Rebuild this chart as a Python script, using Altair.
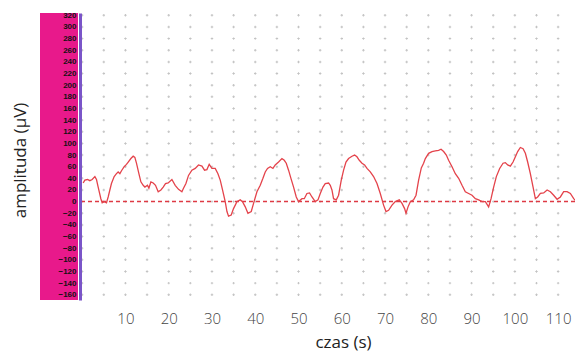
import altair as alt
import pandas as pd

# Signal: time (s) and amplitude (µV)
time_s = [0.23, 0.62, 1.23, 1.78, 2.31, 2.94, 3.31, 3.70, 4.32, 4.62, 5.09, 5.62, 6.01, 6.40, 6.77,
          7.40, 7.93, 8.32, 8.72, 9.09, 9.71, 10.24, 10.64, 11.26, 11.79, 12.18, 12.55, 13.11, 13.57,
          14.10, 14.50, 15.10, 15.42, 15.88, 16.42, 16.95, 17.57, 18.20, 18.73, 19.26, 19.88, 20.74,
          21.50, 22.27, 23.05, 23.42, 23.98, 24.58, 25.36, 26.13, 26.89, 27.68, 28.28, 28.83, 29.36,
          29.99, 30.75, 31.38, 31.91, 32.44, 33.06, 33.46, 33.83, 34.45, 34.98, 35.77, 36.53, 37.06,
          37.69, 38.31, 39.08, 39.61, 40.39, 41.16, 41.78, 42.31, 42.84, 43.47, 44.09, 44.62, 45.39,
          46.17, 46.71, 47.17, 47.70, 48.25, 48.86, 49.48, 50.01, 50.80, 51.33, 51.95, 52.55, 53.11,
          53.87, 54.50, 55.03, 55.65, 56.18, 56.95, 57.34, 57.73, 58.10, 58.73, 59.26, 59.88, 60.42,
          60.97, 61.57, 62.36, 62.96, 63.51, 64.05, 64.67, 65.27, 65.83, 66.59, 67.35, 68.14, 68.90,
          69.66, 70.22, 70.82, 71.61, 72.37, 73.29, 73.92, 74.52, 74.84, 75.31, 75.84, 76.60, 77.16,
          77.76, 78.38, 78.91, 79.31, 80.07, 80.85, 81.62, 82.38, 82.94, 83.54, 84.16, 84.69, 85.48,
          86.24, 87.01, 87.79, 88.55, 89.32, 90.10, 90.87, 91.63, 92.42, 93.18, 93.94, 94.50, 95.10,
          95.72, 96.49, 97.27, 97.80, 98.34, 98.96, 99.58, 100.12, 100.65, 101.27, 101.90, 102.43,
          102.96, 103.58, 104.21, 104.74, 105.27, 105.90, 106.66, 107.45, 108.21, 108.97, 109.76,
          110.52, 111.28, 112.07, 112.83, 113.60, 114.22, 114.75, 115.30, 115.77]
amplitude_uv = [32, 37, 38, 36, 38, 43, 38, 25, 5, -2, 0, -2, 8, 20, 31,
                43, 48, 51, 48, 53, 60, 64, 68, 74, 78, 76, 66, 48, 34,
                28, 25, 28, 23, 34, 32, 28, 17, 20, 25, 31, 32, 38,
                28, 21, 17, 23, 31, 45, 54, 57, 63, 61, 54, 55, 64,
                57, 57, 48, 37, 20, 0, -17, -25, -23, -12, 0, 3, 0,
                -9, -20, -17, -3, 17, 28, 40, 51, 57, 60, 57, 63, 68,
                74, 71, 66, 54, 40, 25, 8, 0, 5, 5, 14, 15, 8,
                0, 3, 14, 25, 31, 32, 28, 20, 5, 3, 11, 37, 54,
                68, 74, 78, 80, 77, 71, 66, 63, 57, 51, 43, 31, 14,
                -6, -17, -15, -6, 0, 3, -3, -12, -20, -9, 0, 3, 11,
                37, 58, 66, 74, 83, 86, 87, 88, 90, 86, 80, 71, 60,
                48, 40, 28, 17, 14, 11, 5, 3, 0, 0, -9, 5, 25,
                43, 57, 66, 67, 63, 61, 68, 77, 86, 93, 91, 83,
                68, 48, 25, 5, 8, 14, 15, 20, 17, 11, 4,
                8, 17, 17, 14, 5, 0, 14, 37, 54]

x_label_values = [10, 20, 30, 40, 50, 60, 70, 80, 90, 100, 110]
x_grid_values = [0, 5, 10, 15, 20, 25, 30, 35, 40, 45, 50, 55, 60, 65, 70, 75, 80, 85, 90, 95,
                 100, 105, 110]
y_tick_values = [-160, -140, -120, -100, -80, -60, -40, -20, 0, 20, 40, 60, 80, 100, 120, 140,
                 160, 180, 200, 220, 240, 260, 280, 300, 320]
baseline_value = [0]

X_DOMAIN = [-0.5, 113.9]
Y_DOMAIN = [-169, 324]
W, H = 495, 287

signal = pd.DataFrame({"t": time_s, "v": amplitude_uv})
grid = pd.DataFrame([(gx, gy) for gx in x_grid_values for gy in y_tick_values], columns=["t", "v"])
base_df = pd.DataFrame({"v": baseline_value})

xscale = alt.Scale(domain=X_DOMAIN, nice=False, zero=False)
yscale = alt.Scale(domain=Y_DOMAIN, nice=False, zero=False)

x_axis = alt.Axis(values=x_label_values, title="czas (s)", grid=False, ticks=False, domain=False,
                  labelFont="Open Sans", labelFontSize=15, labelColor="#444", labelPadding=11,
                  labelFontWeight=300, labelOverlap=False,
                  titleFont="Open Sans", titleFontSize=17, titleColor="#222", titleFontWeight="normal",
                  titleX=263, titleY=47, titleBaseline="alphabetic", titleAlign="center")
y_axis = alt.Axis(values=y_tick_values, title="amplituda (µV)", grid=False, ticks=False,
                  domainColor="#7a55c8", domainWidth=3, zindex=2, labelOverlap=False,
                  labelFont="Liberation Sans", labelFontSize=8, labelFontWeight="bold",
                  labelColor="#111", labelPadding=4,
                  titleFont="Open Sans", titleFontSize=17, titleColor="#222", titleFontWeight="normal",
                  titleX=-60, titleY=147, titleAngle=270, titleAlign="center",
                  titleBaseline="middle")

band = alt.Chart(pd.DataFrame({"k": [0]})).mark_rect(color="#e8198b").encode(
    x=alt.value(-40), x2=alt.value(-2), y=alt.value(0), y2=alt.value(H)
)

dots = alt.Chart(grid).mark_point(shape="cross", filled=True, size=6, color="#b8b8b8", opacity=0.85).encode(
    x=alt.X("t:Q", scale=xscale, axis=x_axis),
    y=alt.Y("v:Q", scale=yscale, axis=y_axis),
)

baseline = alt.Chart(base_df).mark_rule(color="#de3a44", strokeDash=[4, 3], strokeWidth=1.5).encode(
    y=alt.Y("v:Q", scale=yscale, axis=y_axis)
)

line = alt.Chart(signal).mark_line(color="#e4434b", strokeWidth=1.3, clip=True).encode(
    x=alt.X("t:Q", scale=xscale, axis=x_axis),
    y=alt.Y("v:Q", scale=yscale, axis=y_axis),
)

chart = alt.layer(band, dots, baseline, line).properties(
    width=W, height=H,
    autosize=alt.AutoSizeParams(type="none"),
    padding={"left": 72, "right": 0, "top": 5, "bottom": 52},
    background="white",
).configure_view(stroke=None)

chart.save("out.html", embed_options={"renderer": "svg", "actions": False})
